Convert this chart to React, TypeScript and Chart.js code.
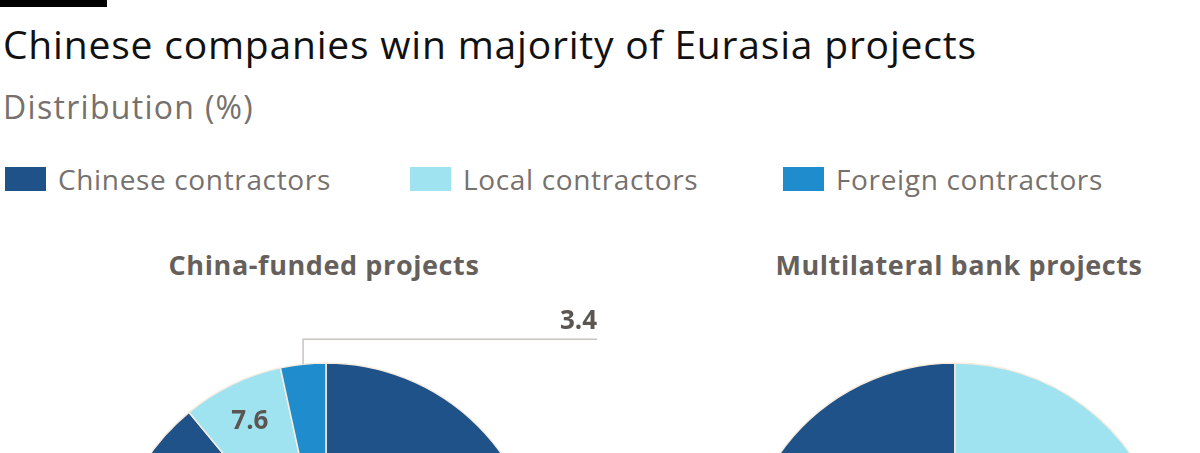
import React, { useEffect, useRef } from "react";
import { Chart, registerables } from "chart.js";

Chart.register(...registerables);

const TITLE = "Chinese companies win majority of Eurasia projects";
const SUBTITLE = "Distribution (%)";
const categories = ["Chinese contractors", "Local contractors", "Foreign contractors"];
const colors = ["#1f5288", "#9fe3f1", "#1f8dcd"];
const chinaFunded = [89.0, 7.6, 3.4];
const multilateral = [29.0, 40.8, 30.2];
const pieTitles = ["China-funded projects", "Multilateral bank projects"];

const FONT = "'Open Sans', 'DejaVu Sans', sans-serif";
const RADIUS = 215;

const labelPlugin = {
  id: "sliceLabels",
  afterDatasetsDraw(chart: any) {
    const ctx = chart.ctx;
    const meta = chart.getDatasetMeta(0);
    const data = chart.data.datasets[0].data as number[];
    const outside: boolean[] = chart.options.plugins.sliceLabels?.outside || [];
    meta.data.forEach((arc: any, i: number) => {
      const { x, y, startAngle, endAngle, outerRadius } = arc.getProps(
        ["x", "y", "startAngle", "endAngle", "outerRadius"],
        true
      );
      const mid = (startAngle + endAngle) / 2;
      const text = data[i].toFixed(1);
      ctx.save();
      ctx.font = `bold 26px ${FONT}`;
      ctx.fillStyle = "#5b5652";
      if (outside[i]) {
        const px = x + Math.cos(mid) * outerRadius;
        const py = y + Math.sin(mid) * outerRadius;
        const ly = py - 25;
        const lx = px + 294;
        ctx.strokeStyle = "#c8c4c0";
        ctx.lineWidth = 1.5;
        ctx.beginPath();
        ctx.moveTo(px, py);
        ctx.lineTo(px, ly);
        ctx.lineTo(lx, ly);
        ctx.stroke();
        ctx.textAlign = "right";
        ctx.textBaseline = "alphabetic";
        ctx.fillText(text, lx, ly - 10);
      } else {
        const r = outerRadius * 0.81;
        ctx.textAlign = "center";
        ctx.textBaseline = "middle";
        ctx.fillText(text, x + Math.cos(mid) * r, y + Math.sin(mid) * r);
      }
      ctx.restore();
    });
  },
};

function Pie({ values, rotation, outside }: { values: number[]; rotation: number; outside: boolean[] }) {
  const ref = useRef<HTMLCanvasElement>(null);
  useEffect(() => {
    if (!ref.current) return;
    const chart = new Chart(ref.current, {
      type: "pie",
      data: {
        labels: categories,
        datasets: [
          {
            data: values,
            backgroundColor: colors,
            borderColor: "#f7ecdf",
            borderWidth: 1.5,
            hoverOffset: 0,
          },
        ],
      },
      options: {
        responsive: false,
        animation: false,
        rotation,
        radius: RADIUS,
        layout: { padding: 0 },
        events: [],
        plugins: {
          legend: { display: false },
          tooltip: { enabled: false },
          title: { display: false },
          // @ts-ignore
          sliceLabels: { outside },
        },
      } as any,
      plugins: [labelPlugin],
    });
    return () => chart.destroy();
  }, []);
  return <canvas ref={ref} width={600} height={576} style={{ width: 600, height: 576, display: "block" }} />;
}

export default function App() {
  useEffect(() => {
    document.body.style.margin = "0";
  }, []);
  return (
    <div
      style={{
        position: "relative",
        width: 1200,
        height: 453,
        overflow: "hidden",
        background: "#ffffff",
        fontFamily: FONT,
      }}
    >
      <div
        style={{
          position: "absolute",
          left: 3,
          top: 17,
          fontSize: 39,
          color: "#111",
          whiteSpace: "nowrap",
          letterSpacing: 0.8,
        }}
      >
        {TITLE}
      </div>
      <div
        style={{
          position: "absolute",
          left: 3,
          top: 85,
          fontSize: 32,
          color: "#76716d",
          whiteSpace: "nowrap",
          letterSpacing: 1.3,
        }}
      >
        {SUBTITLE}
      </div>
      {categories.map((c, i) => (
        <div
          key={c}
          style={{
            position: "absolute",
            left: [5, 410, 783][i],
            top: 160,
            display: "flex",
            alignItems: "center",
            whiteSpace: "nowrap",
          }}
        >
          <div style={{ width: 41, height: 24, background: colors[i], marginRight: 12 }} />
          <span style={{ fontSize: 28, color: "#76716d", letterSpacing: 0.65 }}>{c}</span>
        </div>
      ))}
      {pieTitles.map((t, i) => (
        <div
          key={t}
          style={{
            position: "absolute",
            left: [324, 959][i] - 250,
            width: 500,
            top: 246,
            textAlign: "center",
            fontSize: 27,
            fontWeight: 700,
            color: "#66605c",
            whiteSpace: "nowrap",
            letterSpacing: 0.6,
          }}
        >
          {t}
        </div>
      ))}
      <div style={{ position: "absolute", left: 26, top: 290 }}>
        <Pie values={chinaFunded} rotation={0} outside={[false, false, true]} />
      </div>
      <div style={{ position: "absolute", left: 655, top: 290 }}>
        <Pie values={multilateral} rotation={-(multilateral[0] / 100) * 360} outside={[false, false, false]} />
      </div>
      <div style={{ position: "absolute", left: 0, top: 0, width: 107, height: 7, background: "#000" }} />
    </div>
  );
}
